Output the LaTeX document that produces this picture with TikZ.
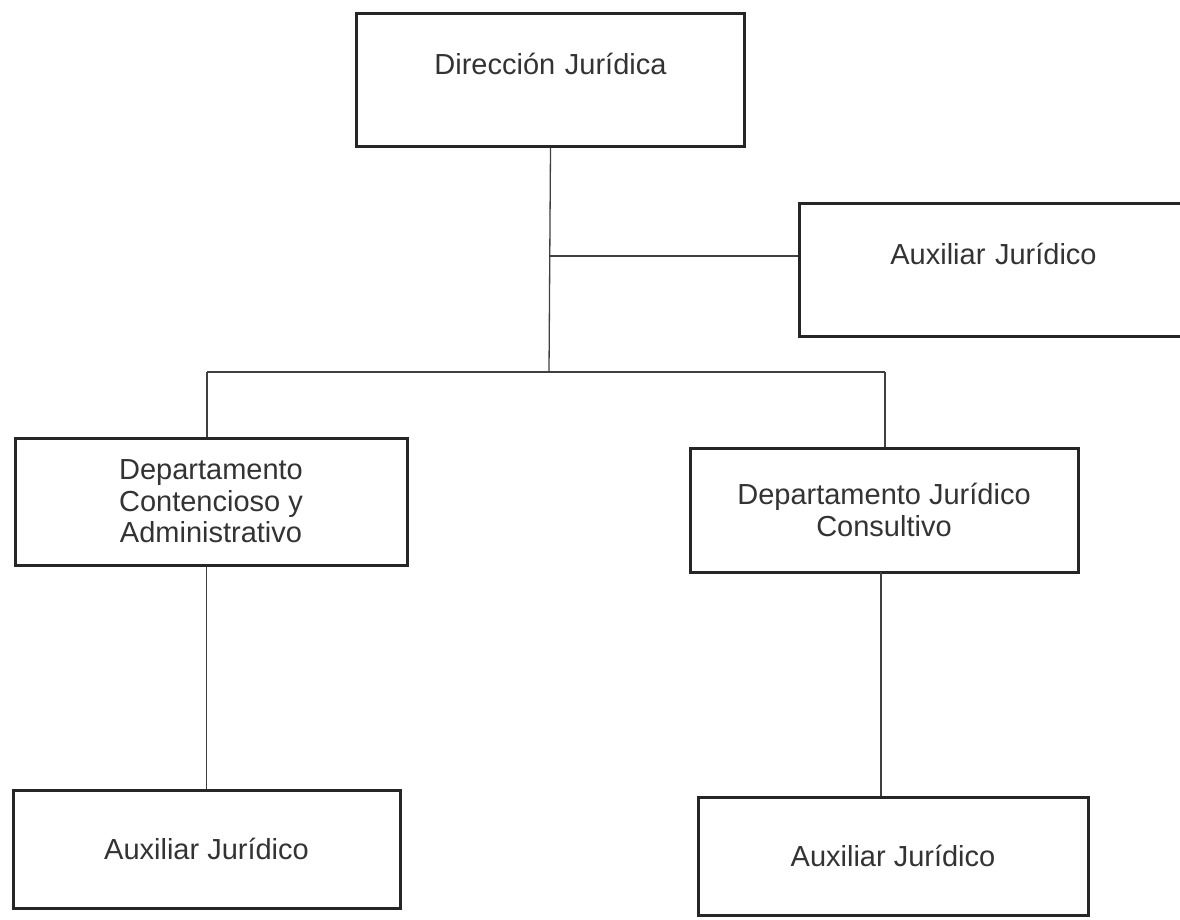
\documentclass[tikz,border=0pt]{standalone}
\usepackage{fontspec}
\setmainfont{Liberation Sans}
\begin{document}
\begin{tikzpicture}[x=1pt,y=-1pt,
  unit/.style={draw=black!85, line width=3pt, inner sep=0pt, align=center,
    text=black!80, font=\fontsize{29}{31.5}\selectfont},
  topunit/.style={unit, anchor=north west, text width=388pt,
    text height=61.4pt, text depth=71.6pt},
  link/.style={draw=black!75, line width=1.3pt}]
\useasboundingbox (0,0) rectangle (1180,919);
\clip (0,0) rectangle (1180,919);

% units
\node[topunit] (dir) at (355,12) {Dirección Jurídica};
\node[topunit] (aux) at (798,202) {Auxiliar Jurídico};
\node[unit, minimum width=392pt, minimum height=127pt] (cont) at (211,501.5)
  {Departamento\\Contencioso y\\Administrativo};
\node[unit, minimum width=388pt, minimum height=124pt] (cons) at (884,510)
  {Departamento Jurídico\\Consultivo};
\node[unit, minimum width=387pt, minimum height=118pt] (auxL) at (206.5,849)
  {Auxiliar Jurídico};
\node[unit, minimum width=390pt, minimum height=118pt] (auxR) at (893,856)
  {Auxiliar Jurídico};

% junctions
\coordinate (staff) at (549,256);
\coordinate (busM) at (549,372);
\coordinate (busL) at (207,372);
\coordinate (busR) at (885,372);
\coordinate (consOut) at (881,572);

% connectors
\draw[link] (dir.south) -- (busM);
\draw[link] (staff) -- (staff -| aux.west);
\draw[link] (busL) -- (busR);
\draw[link] (busL) -- (busL |- cont.north);
\draw[link] (busR) -- (busR |- cons.north);
\draw[link] (auxL.north |- cont.south) -- (auxL.north);
\draw[link] (consOut) -- (consOut |- auxR.north);
\end{tikzpicture}
\end{document}
